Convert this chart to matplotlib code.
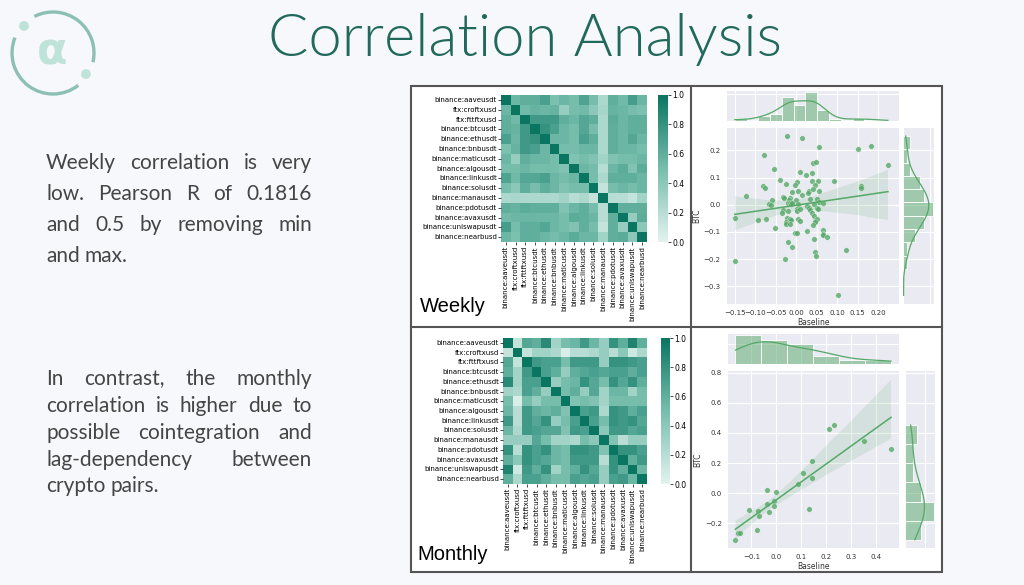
import numpy as np
import matplotlib
matplotlib.use("Agg")
import matplotlib.pyplot as plt
import seaborn as sns
from matplotlib.colors import LinearSegmentedColormap
from matplotlib.patches import Arc, Circle, Rectangle

W, H = 1024, 585
BG = "#f7f8fc"
TEAL = "#21695b"
GREEN = "#55a868"

pairs = ["binance:aaveusdt", "ftx:croftxusd", "ftx:fttftxusd", "binance:btcusdt",
         "binance:ethusdt", "binance:bnbusdt", "binance:maticusdt", "binance:algousdt",
         "binance:linkusdt", "binance:solusdt", "binance:manausdt", "binance:pdotusdt",
         "binance:avaxusdt", "binance:uniswapusdt", "binance:nearbusd"]

weekly_corr = [
    [1.00, 0.55, 0.60, 0.60, 0.70, 0.47, 0.55, 0.50, 0.68, 0.50, 0.25, 0.60, 0.52, 0.72, 0.55],
    [0.55, 1.00, 0.52, 0.57, 0.55, 0.57, 0.35, 0.50, 0.52, 0.40, 0.27, 0.57, 0.55, 0.50, 0.47],
    [0.60, 0.52, 1.00, 0.75, 0.75, 0.75, 0.60, 0.55, 0.65, 0.60, 0.25, 0.62, 0.55, 0.60, 0.60],
    [0.60, 0.57, 0.75, 1.00, 0.80, 0.70, 0.55, 0.50, 0.65, 0.50, 0.25, 0.60, 0.55, 0.60, 0.60],
    [0.70, 0.55, 0.75, 0.80, 1.00, 0.55, 0.55, 0.50, 0.70, 0.60, 0.25, 0.60, 0.55, 0.65, 0.55],
    [0.47, 0.57, 0.75, 0.70, 0.55, 1.00, 0.50, 0.50, 0.55, 0.55, 0.25, 0.60, 0.55, 0.55, 0.50],
    [0.55, 0.35, 0.60, 0.55, 0.55, 0.50, 1.00, 0.45, 0.50, 0.45, 0.30, 0.45, 0.50, 0.50, 0.55],
    [0.50, 0.50, 0.55, 0.50, 0.50, 0.50, 0.45, 1.00, 0.55, 0.50, 0.20, 0.55, 0.62, 0.45, 0.62],
    [0.68, 0.52, 0.65, 0.65, 0.70, 0.55, 0.50, 0.55, 1.00, 0.50, 0.25, 0.60, 0.60, 0.60, 0.55],
    [0.50, 0.40, 0.60, 0.50, 0.60, 0.55, 0.45, 0.50, 0.50, 1.00, 0.15, 0.50, 0.55, 0.50, 0.55],
    [0.25, 0.27, 0.25, 0.25, 0.25, 0.25, 0.30, 0.20, 0.25, 0.15, 1.00, 0.20, 0.20, 0.15, 0.30],
    [0.60, 0.57, 0.62, 0.60, 0.60, 0.60, 0.45, 0.55, 0.60, 0.50, 0.20, 1.00, 0.60, 0.60, 0.60],
    [0.52, 0.55, 0.55, 0.55, 0.55, 0.55, 0.50, 0.62, 0.60, 0.55, 0.20, 0.60, 1.00, 0.35, 0.62],
    [0.72, 0.50, 0.60, 0.60, 0.65, 0.55, 0.50, 0.45, 0.60, 0.50, 0.15, 0.60, 0.35, 1.00, 0.40],
    [0.55, 0.47, 0.60, 0.60, 0.55, 0.50, 0.55, 0.62, 0.55, 0.55, 0.30, 0.60, 0.62, 0.40, 1.00],
]

monthly_corr = [
    [1.00, 0.15, 0.65, 0.60, 0.85, 0.30, 0.50, 0.55, 0.75, 0.55, 0.35, 0.80, 0.60, 0.90, 0.60],
    [0.15, 1.00, 0.15, 0.30, 0.30, 0.25, 0.05, 0.20, 0.20, 0.25, 0.35, 0.20, 0.40, 0.10, 0.25],
    [0.65, 0.15, 1.00, 0.75, 0.70, 0.70, 0.50, 0.75, 0.75, 0.75, 0.35, 0.80, 0.80, 0.75, 0.70],
    [0.60, 0.30, 0.75, 1.00, 0.70, 0.60, 0.35, 0.60, 0.65, 0.70, 0.65, 0.70, 0.70, 0.60, 0.70],
    [0.85, 0.30, 0.70, 0.70, 1.00, 0.35, 0.50, 0.55, 0.80, 0.65, 0.50, 0.80, 0.65, 0.80, 0.60],
    [0.30, 0.25, 0.70, 0.60, 0.35, 1.00, 0.50, 0.60, 0.35, 0.65, 0.30, 0.55, 0.55, 0.30, 0.50],
    [0.50, 0.05, 0.50, 0.35, 0.50, 0.50, 1.00, 0.45, 0.50, 0.45, 0.30, 0.50, 0.50, 0.50, 0.50],
    [0.55, 0.20, 0.75, 0.60, 0.55, 0.60, 0.45, 1.00, 0.70, 0.75, 0.25, 0.80, 0.75, 0.60, 0.70],
    [0.75, 0.20, 0.75, 0.65, 0.80, 0.35, 0.50, 0.70, 1.00, 0.70, 0.50, 0.80, 0.75, 0.80, 0.65],
    [0.55, 0.25, 0.75, 0.70, 0.65, 0.65, 0.45, 0.75, 0.70, 1.00, 0.40, 0.75, 0.75, 0.65, 0.70],
    [0.35, 0.35, 0.35, 0.65, 0.50, 0.30, 0.30, 0.25, 0.50, 0.40, 1.00, 0.45, 0.20, 0.35, 0.35],
    [0.80, 0.20, 0.80, 0.70, 0.80, 0.55, 0.50, 0.80, 0.80, 0.75, 0.45, 1.00, 0.80, 0.80, 0.70],
    [0.60, 0.40, 0.80, 0.70, 0.65, 0.55, 0.50, 0.75, 0.75, 0.75, 0.20, 0.80, 1.00, 0.60, 0.75],
    [0.90, 0.10, 0.75, 0.60, 0.80, 0.30, 0.50, 0.60, 0.80, 0.65, 0.35, 0.80, 0.60, 1.00, 0.55],
    [0.60, 0.25, 0.70, 0.70, 0.60, 0.50, 0.50, 0.70, 0.65, 0.70, 0.35, 0.70, 0.75, 0.55, 1.00],
]

weekly_baseline = [
    -0.022, 0.014, 0.055, 0.152, 0.182, 0.224, -0.079, -0.055, 0.042, 0.048,
    0.010, 0.023, 0.039, -0.039, -0.024, 0.001, -0.002, 0.093, 0.054, 0.039,
    0.047, -0.081, -0.075, 0.157, 0.157, -0.122, -0.011, 0.005, 0.013, 0.031,
    0.030, 0.042, 0.055, -0.059, -0.033, -0.029, -0.016, -0.018, -0.021, -0.016,
    0.000, -0.066, -0.062, -0.013, -0.010, 0.004, 0.034, 0.051, 0.055, 0.065,
    0.044, 0.027, 0.031, 0.050, 0.054, -0.033, -0.035, -0.020, 0.002, 0.003,
    0.010, 0.034, 0.039, 0.044, -0.150, -0.074, -0.094, -0.023, -0.016, -0.013,
    -0.026, -0.026, -0.015, 0.004, 0.010, 0.046, 0.050, 0.046, 0.041, -0.051,
    0.066, 0.065, 0.066, 0.074, 0.027, -0.004, 0.001, 0.044, -0.020, -0.011,
    0.121, 0.047, 0.048, -0.027, -0.150, 0.101,
]
weekly_btc = [
    0.252, 0.246, 0.212, 0.204, 0.215, 0.145, 0.184, 0.133, 0.155, 0.156,
    0.121, 0.108, 0.115, 0.091, 0.076, 0.082, 0.074, 0.087, 0.087, 0.087,
    0.074, 0.069, 0.063, 0.069, 0.060, 0.033, 0.047, 0.051, 0.035, 0.051,
    0.044, 0.057, 0.050, 0.019, 0.029, 0.025, 0.023, 0.019, 0.005, 0.005,
    0.019, 0.002, -0.001, 0.002, 0.006, 0.002, 0.021, 0.021, 0.011, 0.008,
    0.002, -0.006, -0.013, -0.011, -0.016, -0.021, -0.032, -0.022, -0.017, -0.023,
    -0.017, -0.019, -0.029, -0.040, -0.050, -0.054, -0.057, -0.048, -0.054, -0.056,
    -0.062, -0.072, -0.071, -0.052, -0.059, -0.059, -0.054, -0.065, -0.075, -0.084,
    -0.093, -0.107, -0.111, -0.117, -0.095, -0.104, -0.104, -0.127, -0.136, -0.154,
    -0.166, -0.175, -0.187, -0.199, -0.206, -0.333,
]

monthly_baseline = [
    -0.164, -0.154, -0.146, -0.079, -0.110, -0.074, -0.068, -0.039, -0.036, -0.028,
    -0.009, -0.008, -0.003, 0.087, 0.106, 0.130, 0.145, 0.145, 0.213, 0.231,
    0.351, 0.461,
]
monthly_btc = [
    -0.310, -0.262, -0.266, -0.244, -0.113, -0.118, -0.153, 0.024, -0.069, -0.126,
    -0.055, -0.082, 0.009, 0.060, 0.137, -0.104, 0.211, 0.100, 0.426, 0.452,
    0.346, 0.293,
]

para_weekly = ["Weekly correlation is very", "low. Pearson R of 0.1816",
               "and 0.5 by removing min", "and max."]
para_monthly = ["In contrast, the monthly", "correlation is higher due to",
                "possible cointegration and", "lag-dependency between",
                "crypto pairs."]

cmap = LinearSegmentedColormap.from_list("teal", ["#e3f3ef", "#76bdac", "#0a7561"])


def box(x0, y0, x1, y1):
    return [x0 / W, 1 - y1 / H, (x1 - x0) / W, (y1 - y0) / H]


fig = plt.figure(figsize=(W / 100, H / 100), dpi=100, facecolor=BG)
renderer = fig.canvas.get_renderer()

# ---- logo, title, panel frames (pixel coordinates) ----
lax = fig.add_axes([0, 0, 1, 1], zorder=-5)
lax.set_xlim(0, W); lax.set_ylim(H, 0); lax.axis("off")
r = 41
lax.add_patch(Arc((53, 53), 2 * r, 2 * r, theta1=-117, theta2=13, color="#8cc0b4", lw=2.4))
lax.add_patch(Arc((53, 53), 2 * r, 2 * r, theta1=52, theta2=202, color="#8cc0b4", lw=2.4))
lax.add_patch(Circle((24, 26), 4.2, color="#bfe3d9"))
lax.add_patch(Circle((86, 74), 4.2, color="#bfe3d9"))
lax.text(52, 52, "α", fontsize=32, fontweight="bold", color="#bfe3d9",
         ha="center", va="center", family="DejaVu Sans")
lax.text(525, 40, "Correlation Analysis", fontsize=43, color=TEAL, fontweight=300,
         ha="center", va="center", family="Lato")

lax.add_patch(Rectangle((411, 86), 531, 486, facecolor="white", edgecolor="#555555", lw=1.5))
lax.plot([411, 942], [327, 327], color="#555555", lw=1.5)
lax.plot([691, 691], [86, 572], color="#555555", lw=1.5)


# ---- justified paragraphs ----
def justify(lines, ys, x0, x1, size=15):
    for i, (line, y) in enumerate(zip(lines, ys)):
        words = line.split()
        last = i == len(lines) - 1
        widths = []
        for w in words:
            t = lax.text(0, 0, w, fontsize=size, family="Lato")
            widths.append(t.get_window_extent(renderer).width)
            t.remove()
        if last or len(words) == 1:
            sp = size * 0.35
        else:
            sp = (x1 - x0 - sum(widths)) / (len(words) - 1)
        x = x0
        for w, wd in zip(words, widths):
            lax.text(x, y, w, fontsize=size, family="Lato", color="#454545",
                     ha="left", va="center")
            x += wd + sp


justify(para_weekly, [163, 194, 225, 256], 46, 312)
justify(para_monthly, [379, 406, 433, 460, 486], 46, 312)


# ---- heatmaps ----
def heat(data, hbox, cbox, label, label_xy):
    ax = fig.add_axes(box(*hbox))
    cax = fig.add_axes(box(*cbox))
    sns.heatmap(np.array(data), ax=ax, cbar_ax=cax, cmap=cmap, vmin=0, vmax=1,
                xticklabels=pairs, yticklabels=pairs)
    ax.tick_params(labelsize=5, length=2, width=0.5, pad=1)
    ax.set_xticklabels(pairs, rotation=90)
    cax.tick_params(labelsize=5.5, length=2, width=0.5, pad=1)
    lax.text(label_xy[0], label_xy[1], label, fontsize=14.5, family="Liberation Sans",
             color="black", ha="left", va="baseline")


heat(weekly_corr, (501, 95, 647, 242), (658, 95, 668, 242), "Weekly", (420, 312))
heat(monthly_corr, (503, 338, 647, 484), (661, 338, 670, 484), "Monthly", (417, 560))


# ---- joint plots ----
def joint(bx, by, jbox, mxbox, mybox, xlim, ylim, xticks, yticks, xfmt, yfmt):
    with sns.axes_style("darkgrid"):
        axj = fig.add_axes(box(*jbox))
        axx = fig.add_axes(box(*mxbox), sharex=axj)
        axy = fig.add_axes(box(*mybox), sharey=axj)
    sns.regplot(x=np.array(bx), y=np.array(by), ax=axj, color=GREEN, seed=3,
                scatter_kws={"s": 16, "linewidths": 0.3, "edgecolors": "white"},
                line_kws={"lw": 1.1})
    sns.histplot(x=np.array(bx), ax=axx, kde=True, color=GREEN, edgecolor="white",
                 linewidth=0.6, line_kws={"lw": 0.9})
    sns.histplot(y=np.array(by), ax=axy, kde=True, color=GREEN, edgecolor="white",
                 linewidth=0.6, line_kws={"lw": 0.9})
    axj.set_xlim(*xlim); axj.set_ylim(*ylim)
    axj.set_xticks(xticks); axj.set_yticks(yticks)
    axj.set_xticklabels([xfmt.format(v).replace("-", "\u2212") for v in xticks])
    axj.set_yticklabels([yfmt.format(v).replace("-", "\u2212") for v in yticks])
    axj.tick_params(labelsize=5, pad=1, colors="#333333")
    axj.set_xlabel("Baseline", fontsize=5.5, labelpad=1, color="#333333")
    axj.set_ylabel("BTC", fontsize=5.5, labelpad=2, color="#333333")
    for a in (axx, axy):
        a.tick_params(labelbottom=False, labelleft=False, length=0)
        a.set_xlabel(""); a.set_ylabel("")
        for s in a.spines.values():
            s.set_visible(False)
    for s in axj.spines.values():
        s.set_visible(False)


joint(weekly_baseline, weekly_btc, (727, 128, 899, 304), (727, 91, 899, 121),
      (903, 128, 934, 304), (-0.169, 0.251), (-0.365, 0.282),
      [-0.15, -0.10, -0.05, 0.0, 0.05, 0.10, 0.15, 0.20], [-0.3, -0.2, -0.1, 0.0, 0.1, 0.2],
      "{:.2f}", "{:.1f}")
joint(monthly_baseline, monthly_btc, (728, 371, 899, 548), (728, 334, 899, 364),
      (905, 371, 935, 548), (-0.194, 0.493), (-0.364, 0.811),
      [-0.1, 0.0, 0.1, 0.2, 0.3, 0.4], [-0.2, 0.0, 0.2, 0.4, 0.6, 0.8],
      "{:.1f}", "{:.1f}")

fig.savefig("out.png", dpi=100, facecolor=BG)
